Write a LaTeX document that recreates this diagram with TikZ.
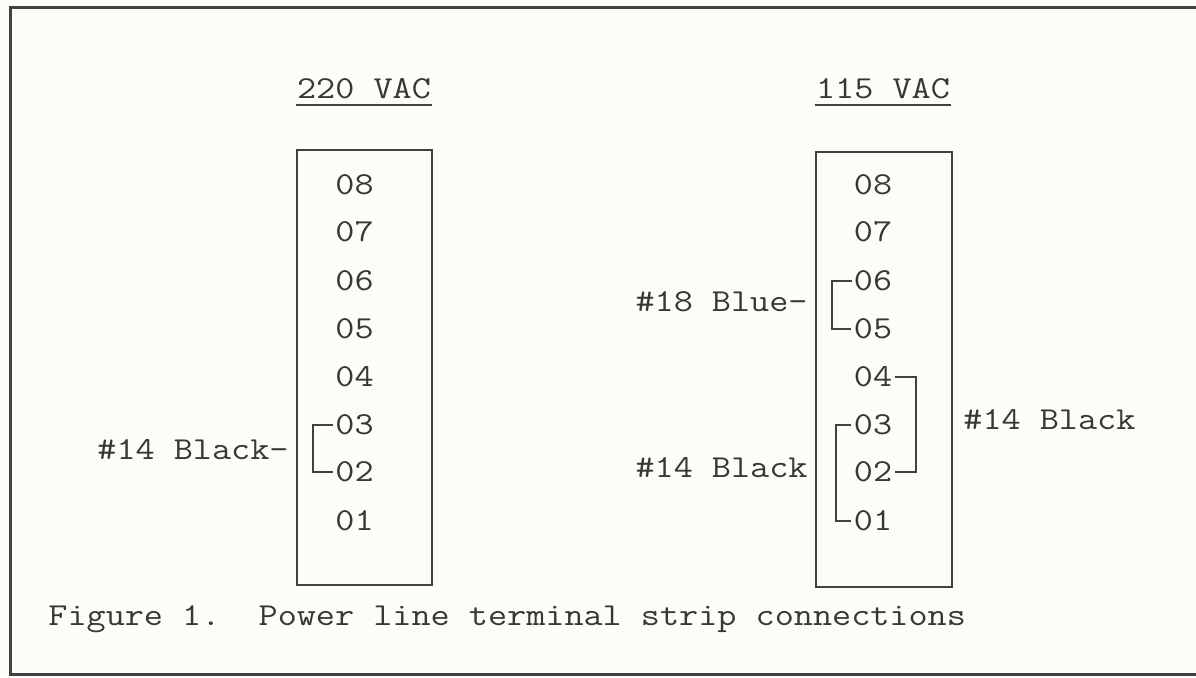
\documentclass[tikz,border=0pt]{standalone}
\usepackage{fontspec}
\setmonofont{Latin Modern Mono}[FakeStretch=1.16]
\definecolor{ink}{RGB}{55,55,55}
\definecolor{linec}{RGB}{65,65,65}
\definecolor{paper}{RGB}{253,252,246}
\begin{document}
\begin{tikzpicture}[x=0.5pt,y=-0.5pt,
  txt/.style={font=\ttfamily\fontsize{16}{19}\selectfont, text=ink, inner sep=0pt},
  digit/.style={txt, inner xsep=1pt},
  strip/.style={draw=linec, line width=1pt, inner sep=0pt},
  wire/.style={draw=linec, line width=1pt},
  frame/.style={draw=linec, line width=1.5pt}]
\fill[paper] (0,0) rectangle (1196,677);
\useasboundingbox (0,0) rectangle (1196,677);
\draw[frame] (1196,7) -- (10,7) -- (10,674) -- (1196,674);

% headings
\node[txt] (h220) at (364,89) {220 VAC};
\node[txt] (h115) at (883,89) {115 VAC};
\draw[wire] ([xshift=-0.5pt,yshift=-2.75pt]h220.south west) -- ([xshift=0.5pt,yshift=-2.75pt]h220.south east);
\draw[wire] ([xshift=-0.5pt,yshift=-2.75pt]h115.south west) -- ([xshift=0.5pt,yshift=-2.75pt]h115.south east);

% terminal strips
\node[strip, minimum width=67.5pt, minimum height=217.5pt] (LB) at (364.5,367.5) {};
\node[strip, minimum width=68pt, minimum height=217.5pt] (RB) at (884,369.5) {};

\foreach \n/\y in {08/185,07/232,06/281,05/329,04/377,03/425,02/472,01/521}{
  \node[digit] (L\n) at (354.5,\y) {\n};
  \node[digit] (R\n) at (873,\y) {\n};
}

% jumpers
\draw[wire] (L03.west) -- ++(-20,0) |- (L02.west);
\draw[wire] (R06.west) -- ++(-20,0) |- (R05.west);
\draw[wire] (R03.west) -- ++(-15,0) |- (R01.west);
\draw[wire] (R04.east) -- ++(21,0) |- (R02.east);

% wire labels
\node[txt, anchor=east] (lab1) at (289,450) {\#14 Black-};
\node[txt, anchor=east] (lab2) at (808,302) {\#18 Blue-};
\node[txt, anchor=east] (lab3) at (808,468) {\#14 Black};
\node[txt, anchor=west] (lab4) at (963,420) {\#14 Black};

% caption
\node[txt, anchor=base west] (cap) at (48,625) {Figure 1.\ \ Power line terminal strip connections};
\end{tikzpicture}
\end{document}
